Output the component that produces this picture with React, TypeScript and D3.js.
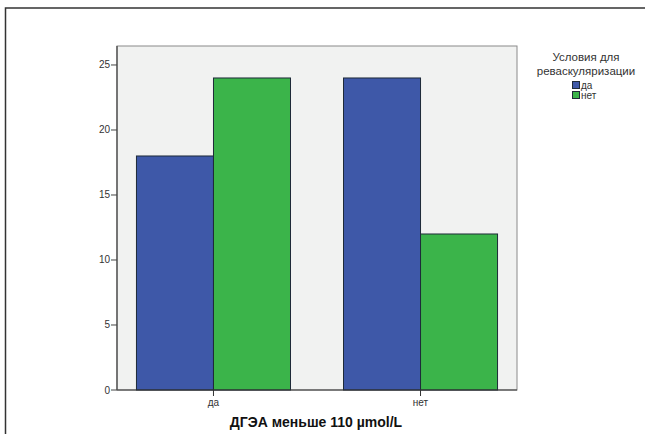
import React from "react";
import * as d3 from "d3";

const categories = ["да", "нет"];
const seriesNames = ["да", "нет"];
const valuesDa = [18, 24];
const valuesNet = [24, 12];
const yTicks = [0, 5, 10, 15, 20, 25];
const colors = ["#3E58A8", "#3BB44A"];

export default function App() {
  const W = 645, H = 434;
  const left = 117, right = 517, top = 46, bottom = 390;
  const x = d3.scaleBand<string>().domain(categories).range([left, right]).paddingInner(0.256).paddingOuter(0.094);
  const xs = d3.scaleBand<string>().domain(seriesNames).range([0, x.bandwidth()]);
  const y = d3.scaleLinear().domain([0, 26.46]).range([bottom, top]);
  const series = [valuesDa, valuesNet];
  const font = "'Liberation Sans', Arial, sans-serif";
  return (
    <svg width={W} height={H} style={{ position: "absolute", left: 0, top: 0 }} fontFamily={font}>
      <rect x={0} y={0} width={W} height={H} fill="#fff" />
      <path d={`M5.5,${H} L5.5,8 L${W},8`} fill="none" stroke="#333" strokeWidth={1.5} />
      <rect x={left} y={top} width={right - left} height={bottom - top} fill="#F1F2F1" stroke="#8a8a8a" strokeWidth={1} />
      {categories.map((c, i) =>
        series.map((vals, s) => (
          <rect key={c + s} x={(x(c) as number) + (xs(seriesNames[s]) as number)} y={y(vals[i])}
            width={xs.bandwidth()} height={y(0) - y(vals[i])} fill={colors[s]} stroke="#1e2a38" strokeWidth={1} />
        ))
      )}
      <line x1={left} x2={right} y1={bottom} y2={bottom} stroke="#333" strokeWidth={1.2} />
      <line x1={left} x2={left} y1={top} y2={bottom} stroke="#555" strokeWidth={1.4} />
      {yTicks.map((t) => (
        <g key={t}>
          <line x1={left - 6} x2={left} y1={y(t)} y2={y(t)} stroke="#444" />
          <text x={left - 7} y={y(t) + 3.5} fontSize={10} textAnchor="end" fill="#333">{t}</text>
        </g>
      ))}
      {categories.map((c) => {
        const cx = (x(c) as number) + x.bandwidth() / 2;
        return (
          <g key={c}>
            <line x1={cx} x2={cx} y1={bottom} y2={bottom + 6} stroke="#333" />
            <text x={cx} y={bottom + 16} fontSize={10} textAnchor="middle" fill="#333">{c}</text>
          </g>
        );
      })}
      <text x={316} y={427} fontSize={14} fontWeight="bold" textAnchor="middle" fill="#111">ДГЭА меньше 110 µmol/L</text>
      <text x={586} y={61} fontSize={11.5} textAnchor="middle" fill="#333">Условия для</text>
      <text x={586} y={74.5} fontSize={11.5} textAnchor="middle" fill="#333">реваскуляризации</text>
      {seriesNames.map((s, i) => (
        <g key={s}>
          <rect x={572.5} y={81.5 + i * 10} width={7} height={7} fill={colors[i]} stroke="#1e2a38" />
          <text x={581} y={88.5 + i * 10} fontSize={10} fill="#333">{s}</text>
        </g>
      ))}
    </svg>
  );
}
